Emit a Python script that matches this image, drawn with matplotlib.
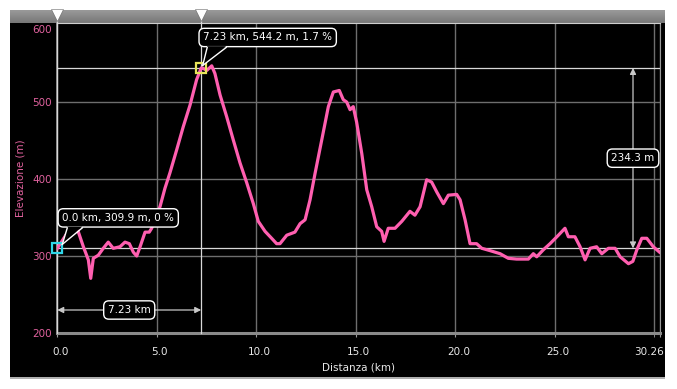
import numpy as np
import matplotlib
matplotlib.use("Agg")
import matplotlib.pyplot as plt
import matplotlib.transforms as mtransforms
from matplotlib.patches import Rectangle, Polygon

# profile: distance (km) and elevation (m)
dist = [0.0, 0.5, 0.97, 1.31, 1.56, 1.68, 1.81, 2.06, 2.31, 2.56, 2.81, 3.15, 3.40, 3.62,
        3.82, 3.99, 4.16, 4.41, 4.62, 4.74, 5.16, 5.41, 5.66, 6.0, 6.33, 6.67, 7.0, 7.23,
        7.31, 7.51, 7.76, 7.92, 8.18, 8.51, 8.84, 9.18, 9.52, 9.85, 10.1, 10.44, 10.77,
        11.02, 11.19, 11.53, 11.94, 12.2, 12.45, 12.7, 12.95, 13.29, 13.62, 13.87, 14.17,
        14.37, 14.54, 14.71, 14.87, 15.04, 15.3, 15.55, 15.8, 16.05, 16.3, 16.42, 16.63,
        16.97, 17.31, 17.72, 17.97, 18.23, 18.56, 18.81, 19.07, 19.4, 19.65, 20.07, 20.24,
        20.49, 20.74, 21.07, 21.33, 21.74, 22.25, 22.66, 23.08, 23.67, 23.92, 24.09, 24.42,
        24.76, 25.18, 25.51, 25.68, 26.01, 26.27, 26.52, 26.77, 27.1, 27.36, 27.69, 28.03,
        28.28, 28.7, 28.92, 29.12, 29.37, 29.62, 29.95, 30.26]
elev = [309.9, 330, 338, 312, 295, 271, 297, 301, 310, 318, 310, 312, 318, 316,
        305, 300, 312, 331, 331, 336, 364, 388, 408, 438, 468, 496, 529, 544.2,
        544, 541, 547, 537, 509, 481, 451, 421, 395, 368, 345, 332, 323,
        316, 316, 327, 331, 342, 347, 373, 407, 451, 494, 513, 515,
        503, 500, 490, 494, 474, 433, 386, 364, 338, 332, 319, 336,
        336, 345, 358, 353, 364, 399, 396, 383, 368, 379, 380, 373,
        347, 316, 316, 310, 307, 303, 297, 296, 296, 303, 299, 308,
        316, 327, 336, 325, 325, 312, 295, 310, 312, 303, 310, 310,
        299, 290, 293, 308, 323, 323, 312, 305]

x_ticks = [0, 5, 10, 15, 20, 25, 30.26]
x_tick_labels = ["0.0", "5.0", "10.0", "15.0", "20.0", "25.0", "30.26"]
y_ticks = [200, 300, 400, 500, 600]

start = (0.0, 309.9)
sel = (7.23, 544.2)
sel_grade = 1.7

pink = "#ff5fb0"
tick_pink = "#e0629e"
guide = "#d8d8d8"
W, H = 677, 389

fig = plt.figure(figsize=(W / 100, H / 100), dpi=100, facecolor="white")
fig.patches.append(Rectangle((10 / W, 12 / H), 655 / W, 367 / H, transform=fig.transFigure,
                             facecolor="black", edgecolor="none", zorder=-5))
fig.patches.append(Rectangle((10 / W, 10.5 / H), 655 / W, 1.5 / H, transform=fig.transFigure,
                             facecolor="#b0b0b0", edgecolor="none", zorder=-5))

# grey bar on top
bar = fig.add_axes([10 / W, (H - 23) / H, 655 / W, 13 / H])
grad = np.linspace(0.6, 0.47, 20).reshape(-1, 1)
bar.imshow(grad, aspect="auto", cmap="gray", vmin=0, vmax=1, extent=(0, 1, 0, 1))
bar.set_axis_off()

ax = fig.add_axes([57.3 / W, 56 / H, 602.2 / W, 310 / H])
ax.set_facecolor("black")
ax.set_xlim(0, 30.26)
ax.set_ylim(200, 602.6)

ax.set_xticks([5, 10, 15, 20, 25, 30], minor=True)
ax.grid(True, which="both", color="#6e6e6e", lw=1)
ax.set_yticks(y_ticks)
ax.set_xticks(x_ticks)
ax.set_xticklabels(x_tick_labels)
ax.tick_params(axis="x", which="both", colors="#9a9a9a", labelcolor="#e8e8e8", labelsize=7.5,
               length=3, pad=7)
ax.tick_params(axis="y", colors="#9a9a9a", labelcolor=tick_pink, labelsize=7.5, length=0, pad=4)
for lab in ax.get_xticklabels()[:-1]:
    lab.set_transform(lab.get_transform() + mtransforms.ScaledTranslation(3 / 100, 0, fig.dpi_scale_trans))
ax.get_xticklabels()[-1].set_ha("right")
ax.get_xticklabels()[-1].set_transform(ax.get_xticklabels()[-1].get_transform()
                                       + mtransforms.ScaledTranslation(4 / 100, 0, fig.dpi_scale_trans))
ax.yaxis.get_major_ticks()[-1].label1.set_va("top")
ax.yaxis.get_major_ticks()[-1].gridline.set_visible(False)

for side in ["left", "right"]:
    ax.spines[side].set_color("#9a9a9a")
ax.spines["bottom"].set_color("#8a8a8a")
ax.spines["bottom"].set_linewidth(2.2)
ax.spines["top"].set_color("#cfcfcf")
ax.spines["left"].set_linewidth(1.2)

ax.set_xlabel("Distanza (km)", color="#e8e8e8", fontsize=7.5, labelpad=4)
ax.set_ylabel("Elevazione (m)", color=tick_pink, fontsize=7.5, labelpad=5)

# guide lines through the two points
for px, py in [start, sel]:
    ax.axhline(py, color=guide, lw=0.9, zorder=3)
    ax.axvline(px, ymin=0, ymax=1.02, color=guide, lw=0.9, zorder=3, clip_on=False)

ax.plot(dist, elev, color=pink, lw=2.3, zorder=4, solid_joinstyle="round")

top_trans = mtransforms.blended_transform_factory(ax.transData, ax.transAxes)
ax.plot([start[0], sel[0]], [1.027, 1.027], "v", color="white", ms=8.5, mec="#666666", mew=0.4,
        transform=top_trans, clip_on=False, zorder=10)

ax.plot(*start, "s", ms=7.5, mfc="none", mec="#2fd6e8", mew=1.6, zorder=6, clip_on=False)
ax.plot(*sel, "s", ms=7.5, mfc="none", mec="#e8e45a", mew=1.6, zorder=6, clip_on=False)

box = dict(boxstyle="round,pad=0.4,rounding_size=0.5", fc="black", ec="white", lw=1)


def callout(pt, text, left_px, base):
    ax.annotate(text, xy=pt, xytext=((left_px + 4) * 0.72, 30.5 * 0.72), textcoords="offset points",
                ha="left", va="center", color="white", fontsize=7.5, bbox=box, zorder=8,
                annotation_clip=False)
    tr = fig.dpi_scale_trans + mtransforms.ScaledTranslation(pt[0], pt[1], ax.transData)
    (b0, b1), tip = base
    ax.add_patch(Polygon([(b0 / 100, 21.8 / 100), (tip[0] / 100, tip[1] / 100), (b1 / 100, 21.8 / 100)],
                         closed=True, fc="black", ec="none", transform=tr, zorder=9, clip_on=False))
    for b in (b0, b1):
        ax.plot([b / 100, tip[0] / 100], [20.5 / 100, tip[1] / 100], color="white", lw=1,
                transform=tr, zorder=9, clip_on=False)


callout(sel, "%.2f km, %.1f m, %.1f %%" % (sel[0], sel[1], sel_grade), -2, ((6, 25), (1.5, 2.5)))
callout(start, "%.1f km, %.1f m, 0 %%" % start, 1, ((10, 25), (5, 4)))

# distance between the two points
yb = 23 / 310
ax.annotate("", xy=(sel[0], yb), xytext=(start[0], yb), xycoords=top_trans, textcoords=top_trans,
            arrowprops=dict(arrowstyle="<|-|>", color="#c8c8c8", lw=0.9, mutation_scale=9,
                            shrinkA=0, shrinkB=0), zorder=5, annotation_clip=False)
ax.text((start[0] + sel[0]) / 2, yb, "%.2f km" % (sel[0] - start[0]), transform=top_trans,
        ha="center", va="center", color="white", fontsize=7.5, bbox=box, zorder=8)

# climb between the two points
xa = 0.956
right_trans = mtransforms.blended_transform_factory(ax.transAxes, ax.transData)
ax.annotate("", xy=(xa, sel[1]), xytext=(xa, start[1]), xycoords=right_trans, textcoords=right_trans,
            arrowprops=dict(arrowstyle="<|-|>", color="#c8c8c8", lw=0.9, mutation_scale=9,
                            shrinkA=0, shrinkB=0), zorder=5)
ax.text(xa, (sel[1] + start[1]) / 2, "%.1f m" % (sel[1] - start[1]), transform=right_trans,
        ha="center", va="center", color="white", fontsize=7.5, bbox=box, zorder=8)

fig.savefig("out.png", dpi=100, facecolor=fig.get_facecolor())
